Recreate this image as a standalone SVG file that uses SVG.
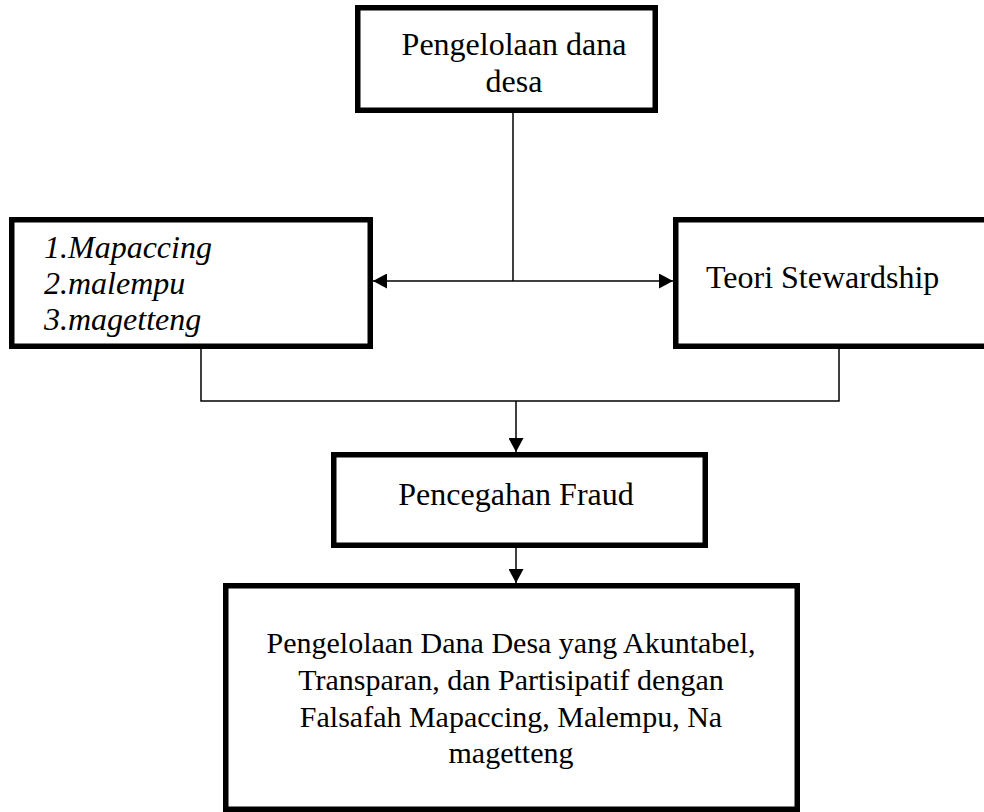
<svg xmlns="http://www.w3.org/2000/svg" width="984" height="812" viewBox="0 0 984 812">
<style>
.box{fill:#fff;stroke:#000;stroke-width:5.5}
.t{font-family:"Liberation Serif","Times New Roman",serif;font-size:32px;fill:#000}
.s{font-size:30px}
.c{text-anchor:middle}
.i{font-style:italic}
.ln{fill:none;stroke:#000;stroke-width:1.5}
</style>
<defs>
<marker id="ah" markerWidth="14" markerHeight="15" refX="14" refY="7.5" orient="auto" markerUnits="userSpaceOnUse">
<path d="M0,0 L14,7.5 L0,15 Z" fill="#000"/>
</marker>
</defs>
<rect width="984" height="812" fill="#fff"/>
<g id="connectors">
<path class="ln" d="M513,113 V281"/>
<path class="ln" d="M513,281 H373" marker-end="url(#ah)"/>
<path class="ln" d="M513,281 H673" marker-end="url(#ah)"/>
<path class="ln" d="M201,349 V401 H839 V349"/>
<path class="ln" d="M516,401 V452" marker-end="url(#ah)"/>
<path class="ln" d="M516,548 V583" marker-end="url(#ah)"/>
</g>
<g id="node-pengelolaan">
<rect class="box" x="357.75" y="7.75" width="297.5" height="102.5"/>
<text class="t c" x="514" y="55">Pengelolaan dana</text>
<text class="t c" x="514" y="92">desa</text>
</g>
<g id="node-falsafah">
<rect class="box" x="11.75" y="219.75" width="358.5" height="126.5"/>
<text class="t i" x="44" y="258">1.Mapaccing</text>
<text class="t i" x="44" y="294">2.malempu</text>
<text class="t i" x="44" y="330">3.magetteng</text>
</g>
<g id="node-stewardship">
<rect class="box" x="675.75" y="219.75" width="312" height="126.5"/>
<text class="t" x="706" y="288">Teori Stewardship</text>
</g>
<g id="node-pencegahan">
<rect class="box" x="333.75" y="454.75" width="371.5" height="90.5"/>
<text class="t c" x="516" y="505">Pencegahan Fraud</text>
</g>
<g id="node-hasil">
<rect class="box" x="225.75" y="585.75" width="571.5" height="223.5"/>
<text class="t s c" x="511" y="653">Pengelolaan Dana Desa yang Akuntabel,</text>
<text class="t s c" x="511" y="690">Transparan, dan Partisipatif dengan</text>
<text class="t s c" x="511" y="727">Falsafah Mapaccing, Malempu, Na</text>
<text class="t s c" x="511" y="763">magetteng</text>
</g>
</svg>
